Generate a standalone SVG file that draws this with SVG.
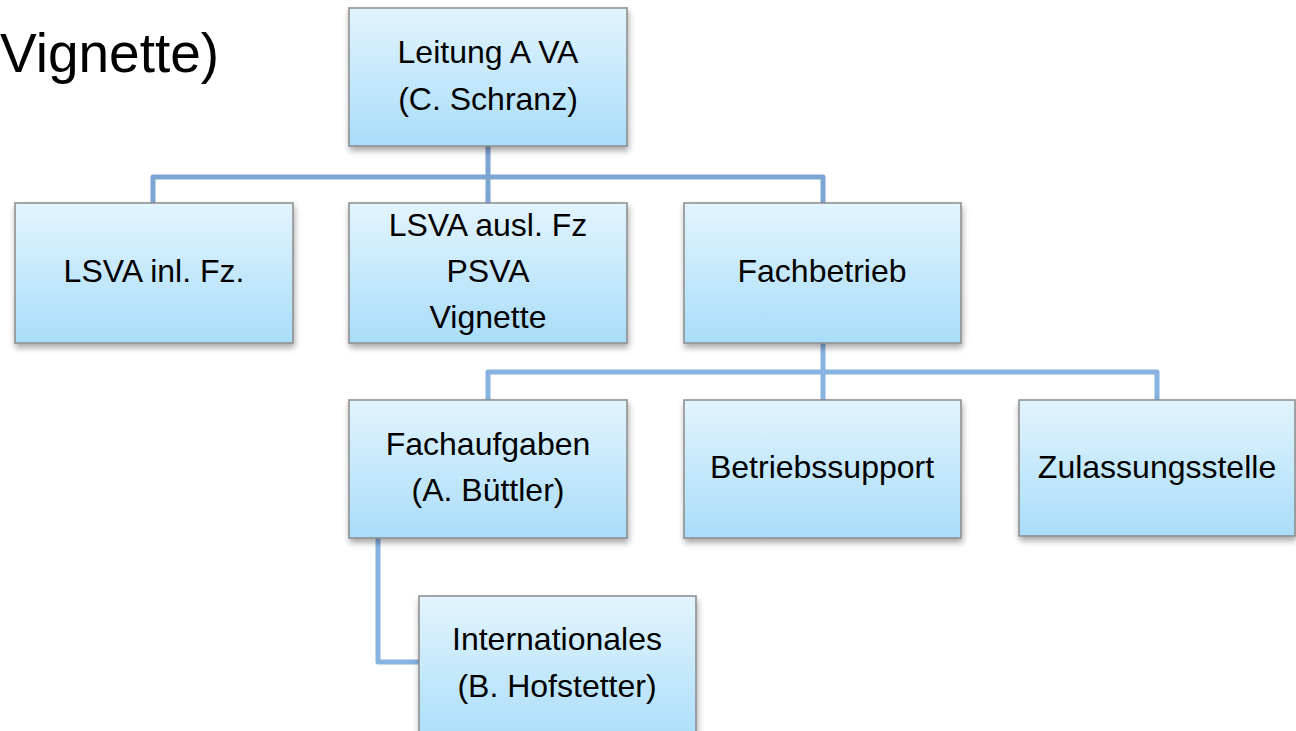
<svg xmlns="http://www.w3.org/2000/svg" width="1296" height="731" viewBox="0 0 1296 731">
<defs>
<linearGradient id="g" x1="0" y1="0" x2="0" y2="1">
<stop offset="0" stop-color="#e2f4fd"/>
<stop offset="1" stop-color="#a9ddf9"/>
</linearGradient>
<filter id="sh" x="-10%" y="-10%" width="120%" height="130%">
<feGaussianBlur in="SourceAlpha" stdDeviation="3"/>
<feOffset dx="1" dy="4" result="b"/>
<feComponentTransfer><feFuncA type="linear" slope="0.35"/></feComponentTransfer>
<feMerge><feMergeNode/><feMergeNode in="SourceGraphic"/></feMerge>
</filter>
</defs>
<style>
.box{fill:url(#g);stroke:#8a8a8a;stroke-width:1.5;filter:url(#sh)}
.t{font-family:"Liberation Sans",Arial,sans-serif;font-size:32px;fill:#000;text-anchor:middle}
.c{fill:none;stroke:#86b3e2;stroke-width:5;stroke-linejoin:round}
.c1{stroke:#7ea6d2}
</style>
<rect width="1296" height="731" fill="#fff"/>
<text x="0" y="72" style="font-family:'Liberation Sans',Arial,sans-serif;font-size:55px;fill:#000">Vignette)</text>
<g id="connectors">
<path class="c c1" d="M488 146V177M153 203V177H823V203M488 177V203"/>
<path class="c" d="M823 343V372M488 400V372H1157V400M823 372V400"/>
<path class="c" d="M378 538V662H419"/>
</g>
<g id="n-leitung"><rect class="box" x="349" y="8" width="278" height="138"/><text class="t" x="488" y="63">Leitung A VA</text><text class="t" x="488" y="110">(C. Schranz)</text></g>
<g id="n-lsva-inl"><rect class="box" x="15" y="203" width="278" height="140"/><text class="t" x="154" y="282">LSVA inl. Fz.</text></g>
<g id="n-lsva-ausl"><rect class="box" x="349" y="203" width="278" height="140"/><text class="t" x="488" y="236">LSVA ausl. Fz</text><text class="t" x="488" y="282">PSVA</text><text class="t" x="488" y="328">Vignette</text></g>
<g id="n-fachbetrieb"><rect class="box" x="684" y="203" width="277" height="140"/><text class="t" x="822" y="282">Fachbetrieb</text></g>
<g id="n-fachaufgaben"><rect class="box" x="349" y="400" width="278" height="138"/><text class="t" x="488" y="455">Fachaufgaben</text><text class="t" x="488" y="501">(A. Büttler)</text></g>
<g id="n-betriebssupport"><rect class="box" x="684" y="400" width="277" height="138"/><text class="t" x="822" y="478">Betriebssupport</text></g>
<g id="n-zulassung"><rect class="box" x="1019" y="400" width="276" height="136"/><text class="t" x="1157" y="478">Zulassungsstelle</text></g>
<g id="n-internationales"><rect class="box" x="419" y="596" width="277" height="150"/><text class="t" x="557" y="650">Internationales</text><text class="t" x="557" y="697">(B. Hofstetter)</text></g>
</svg>
